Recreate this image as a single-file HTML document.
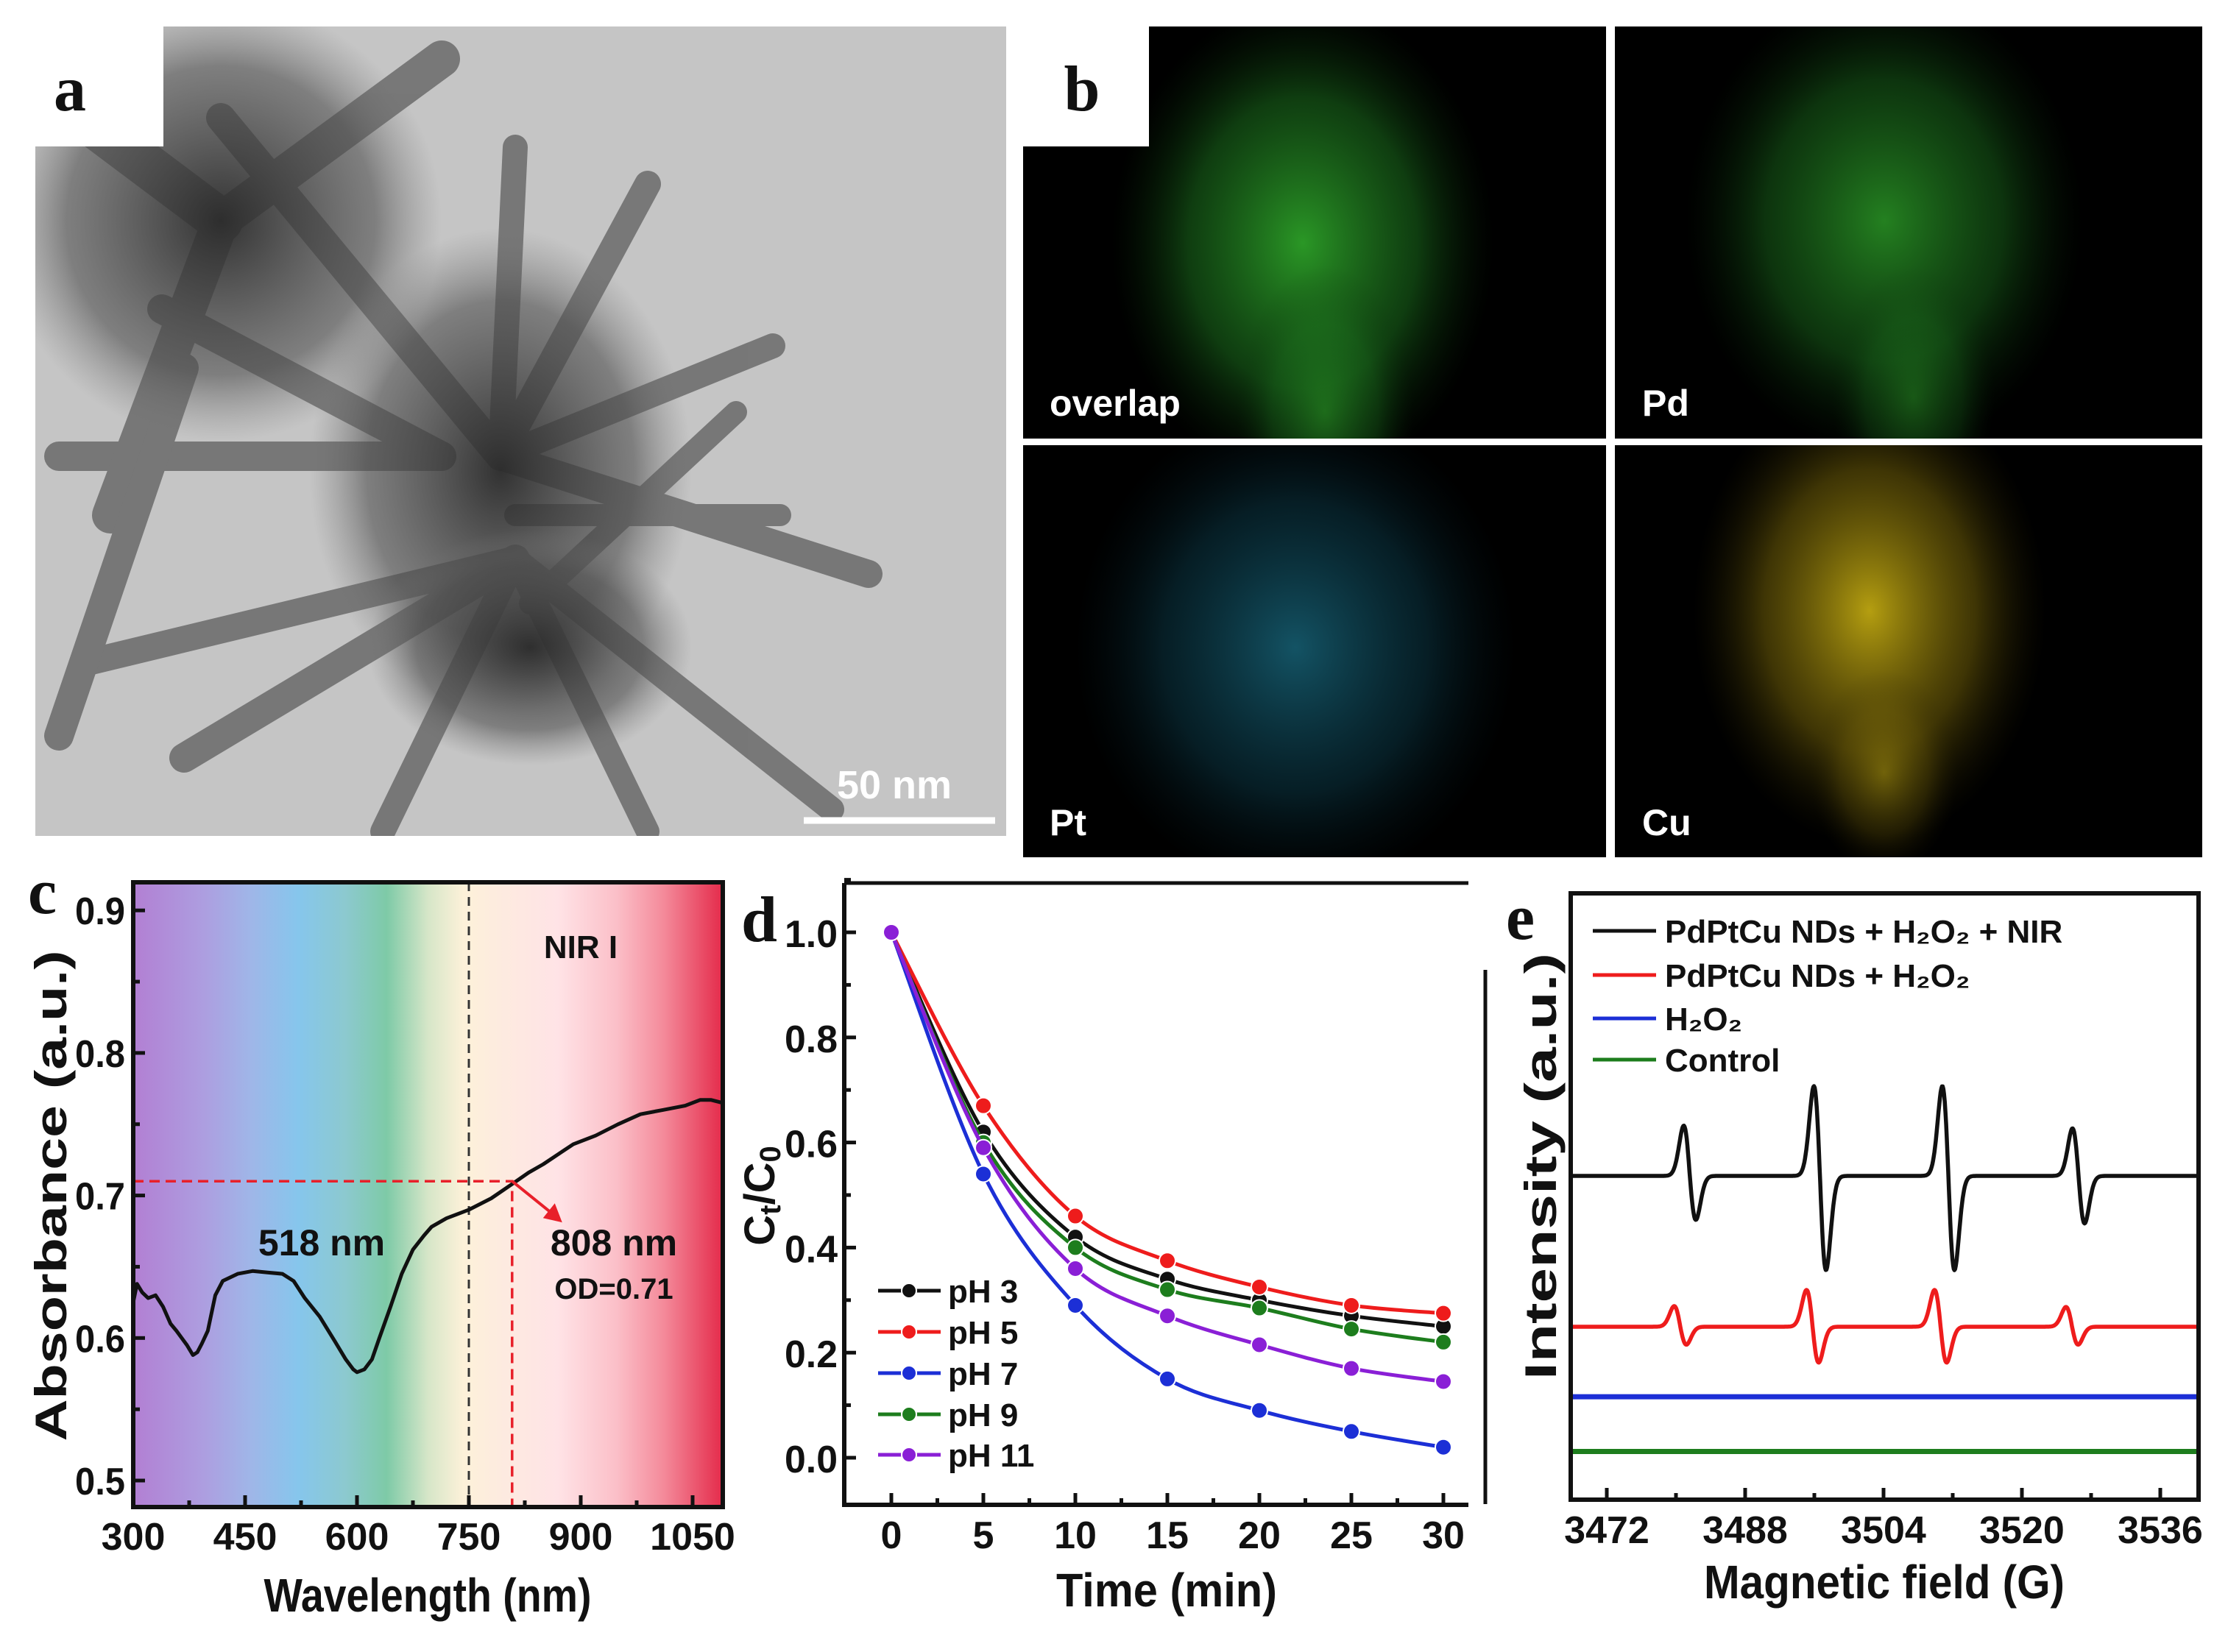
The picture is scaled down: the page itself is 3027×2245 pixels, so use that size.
<!DOCTYPE html>
<html><head><meta charset="utf-8">
<style>
html,body{margin:0;padding:0;background:#fff;}
svg{display:block;}
text{font-family:"Liberation Sans",Arial,sans-serif;}
.tk{font-size:52px;font-weight:bold;fill:#111;}
.ttl{font-size:64px;font-weight:bold;fill:#111;}
.pl{font-family:"Liberation Serif",serif;font-size:88px;font-weight:bold;fill:#111;}
.lg{font-size:44px;font-weight:bold;fill:#111;}
.map{font-size:50px;font-weight:bold;fill:#fff;}
</style></head>
<body>
<svg id="fig" width="3027" height="2245" viewBox="0 0 3027 2245" xmlns="http://www.w3.org/2000/svg">
<defs>
  <linearGradient id="spec" x1="181" x2="982" y1="0" y2="0" gradientUnits="userSpaceOnUse">
    <stop offset="0" stop-color="#b27fd3"/>
    <stop offset="0.12" stop-color="#ad9ee0"/>
    <stop offset="0.2" stop-color="#9fb6e8"/>
    <stop offset="0.28" stop-color="#86c6ec"/>
    <stop offset="0.36" stop-color="#8cc9cf"/>
    <stop offset="0.43" stop-color="#7ecaa7"/>
    <stop offset="0.5" stop-color="#d6e6c8"/>
    <stop offset="0.56" stop-color="#fdf1d9"/>
    <stop offset="0.62" stop-color="#fdebdf"/>
    <stop offset="0.72" stop-color="#ffe3e6"/>
    <stop offset="0.82" stop-color="#fbbfc8"/>
    <stop offset="0.9" stop-color="#f48a9a"/>
    <stop offset="1" stop-color="#e42b4b"/>
  </linearGradient>
  <radialGradient id="gOv" cx="0.5" cy="0.5" r="0.5"><stop offset="0" stop-color="#2fa82a" stop-opacity="0.9"/><stop offset="0.6" stop-color="#1e7a20" stop-opacity="0.5"/><stop offset="1" stop-color="#0a300a" stop-opacity="0"/></radialGradient>
  <radialGradient id="gPt" cx="0.5" cy="0.5" r="0.5"><stop offset="0" stop-color="#1a6f86" stop-opacity="0.75"/><stop offset="0.6" stop-color="#0f4a5c" stop-opacity="0.4"/><stop offset="1" stop-color="#062028" stop-opacity="0"/></radialGradient>
  <radialGradient id="gCu" cx="0.5" cy="0.5" r="0.5"><stop offset="0" stop-color="#c9b012" stop-opacity="0.9"/><stop offset="0.6" stop-color="#7d6a0a" stop-opacity="0.5"/><stop offset="1" stop-color="#2a2404" stop-opacity="0"/></radialGradient>
  <radialGradient id="gTem" cx="0.5" cy="0.5" r="0.5"><stop offset="0" stop-color="#2a2a2a" stop-opacity="0.95"/><stop offset="0.7" stop-color="#505050" stop-opacity="0.6"/><stop offset="1" stop-color="#777" stop-opacity="0"/></radialGradient>
  <clipPath id="clipA"><rect x="48" y="36" width="1319" height="1100"/></clipPath>
  <clipPath id="clipB1"><rect x="1390" y="36" width="792" height="560"/></clipPath>
  <clipPath id="clipB2"><rect x="2194" y="36" width="798" height="560"/></clipPath>
  <clipPath id="clipB3"><rect x="1390" y="605" width="792" height="560"/></clipPath>
  <clipPath id="clipB4"><rect x="2194" y="605" width="798" height="560"/></clipPath>
  <clipPath id="clipC"><rect x="181" y="1199" width="801" height="849"/></clipPath>
</defs>

<!-- Panel a: TEM -->
<g clip-path="url(#clipA)">
  <rect x="48" y="36" width="1319" height="1100" fill="#c5c5c5"/>
  <g id="temArms" stroke="#6a6a6a" stroke-linecap="round" fill="none" opacity="0.85"></g>
  <ellipse cx="300" cy="300" rx="300" ry="300" fill="url(#gTem)"/>
  <ellipse cx="680" cy="640" rx="260" ry="330" fill="url(#gTem)"/>
  <ellipse cx="720" cy="880" rx="220" ry="160" fill="url(#gTem)"/>
</g>
<rect x="0" y="0" width="222" height="199" fill="#fff"/>
<text x="95" y="150" class="pl" text-anchor="middle">a</text>
<line x1="1092" y1="1115" x2="1352" y2="1115" stroke="#fff" stroke-width="9"/>
<text x="1215" y="1085" text-anchor="middle" style="font-size:54px;font-weight:bold;fill:#fff">50 nm</text>

<!-- Panel b: EDS maps -->
<g>
  <rect x="1390" y="36" width="1602" height="1129" fill="#000"/>
  <g clip-path="url(#clipB1)">
    <ellipse cx="1770" cy="330" rx="260" ry="330" fill="url(#gOv)"/>
    <ellipse cx="1800" cy="560" rx="120" ry="200" fill="url(#gOv)" opacity="0.6"/>
  </g>
  <g clip-path="url(#clipB2)">
    <ellipse cx="2560" cy="300" rx="270" ry="320" fill="url(#gOv)" opacity="0.85"/>
    <ellipse cx="2600" cy="540" rx="110" ry="180" fill="url(#gOv)" opacity="0.5"/>
  </g>
  <g clip-path="url(#clipB3)">
    <ellipse cx="1760" cy="880" rx="300" ry="330" fill="url(#gPt)"/>
  </g>
  <g clip-path="url(#clipB4)">
    <ellipse cx="2540" cy="830" rx="240" ry="320" fill="url(#gCu)"/>
    <ellipse cx="2560" cy="1050" rx="100" ry="140" fill="url(#gCu)" opacity="0.5"/>
  </g>
  <rect x="2182" y="36" width="12" height="1129" fill="#fff"/>
  <rect x="1390" y="596" width="1602" height="9" fill="#fff"/>
  <text x="1426" y="565" class="map">overlap</text>
  <text x="2231" y="565" class="map">Pd</text>
  <text x="1426" y="1135" class="map">Pt</text>
  <text x="2231" y="1135" class="map">Cu</text>
</g>
<rect x="1390" y="0" width="171" height="199" fill="#fff"/>
<text x="1470" y="150" class="pl" text-anchor="middle">b</text>

<!-- Panel c -->
<g id="panelC">
  <rect x="181" y="1199" width="801" height="849" fill="url(#spec)"/>
</g>
<text x="38" y="1241" class="pl">c</text>

<!-- Panel d -->
<g id="panelD"></g>
<text x="1007" y="1279" class="pl">d</text>
<line x1="2018" y1="1318" x2="2018" y2="2044" stroke="#111" stroke-width="5"/>

<!-- Panel e -->
<g id="panelE"></g>
<text x="2046" y="1276" class="pl">e</text>
</svg>

<script>
// ---------- Panel c data ----------
const cWavelength = [300,305,312,320,330,340,350,358,365,372,380,386,392,400,410,420,440,460,480,500,515,530,550,570,585,595,600,610,620,630,645,660,675,690,700,720,750,780,808,830,850,870,890,920,950,980,1010,1040,1060,1075,1090];
const cAbsorbance = [0.625,0.638,0.632,0.628,0.630,0.622,0.610,0.605,0.600,0.595,0.588,0.590,0.596,0.605,0.630,0.640,0.645,0.647,0.646,0.645,0.640,0.628,0.615,0.598,0.585,0.578,0.576,0.578,0.585,0.600,0.622,0.645,0.662,0.672,0.678,0.684,0.690,0.698,0.708,0.716,0.722,0.729,0.736,0.742,0.750,0.757,0.760,0.763,0.767,0.767,0.765];
const cXTicks = [300,450,600,750,900,1050];
const cYTicks = [0.5,0.6,0.7,0.8,0.9];
const cMarkWl = 808, cMarkOD = 0.71, cBoundary = 750;

// ---------- Panel d data ----------
const dTime = [0,5,10,15,20,25,30];
const dPH3 = [1.0,0.62,0.42,0.34,0.30,0.27,0.25];
const dPH5 = [1.0,0.67,0.46,0.375,0.325,0.29,0.275];
const dPH7 = [1.0,0.54,0.29,0.15,0.09,0.05,0.02];
const dPH9 = [1.0,0.60,0.40,0.32,0.285,0.245,0.22];
const dPH11 = [1.0,0.59,0.36,0.27,0.215,0.17,0.145];
const dLabels = ["pH 3","pH 5","pH 7","pH 9","pH 11"];
const dXTicks = [0,5,10,15,20,25,30];
const dYTicks = [0.0,0.2,0.4,0.6,0.8,1.0];

// ---------- Panel e data ----------
const eLabels = ["PdPtCu NDs + H\u2082O\u2082 + NIR","PdPtCu NDs + H\u2082O\u2082","H\u2082O\u2082","Control"];
const eBaselines = [0.0,-1.68,-2.46,-3.07];
const eBlackPeakCenters = [3481.6,3496.65,3511.5,3526.55];
const eBlackUp = [0.56,1.0,1.0,0.53];
const eBlackDown = [0.49,1.05,1.05,0.53];
const eRedPeakCenters = [3480.5,3495.8,3510.6,3525.8];
const eRedUp = [0.23,0.41,0.41,0.22];
const eRedDown = [0.2,0.4,0.4,0.2];
const eXTicks = [3472,3488,3504,3520,3536];

const NS = "http://www.w3.org/2000/svg";
function mk(parent, tag, attrs){const e=document.createElementNS(NS,tag);for(const k in attrs)e.setAttribute(k,attrs[k]);parent.appendChild(e);return e;}
function smoothPath(pts){
  let d="M"+pts[0][0].toFixed(1)+","+pts[0][1].toFixed(1);
  for(let i=0;i<pts.length-1;i++){
    const p0=pts[i-1]||pts[i],p1=pts[i],p2=pts[i+1],p3=pts[i+2]||p2;
    const c1=[p1[0]+(p2[0]-p0[0])/6,p1[1]+(p2[1]-p0[1])/6];
    const c2=[p2[0]-(p3[0]-p1[0])/6,p2[1]-(p3[1]-p1[1])/6];
    d+=" C"+c1.map(v=>v.toFixed(1))+" "+c2.map(v=>v.toFixed(1))+" "+p2[0].toFixed(1)+","+p2[1].toFixed(1);
  }
  return d;
}

// TEM arms (decorative)
(function(){
  const g=document.getElementById('temArms');
  const arms=[[680,620,300,160,40],[680,620,880,250,36],[680,620,1050,470,34],[680,620,1180,780,38],[700,760,1130,1100,34],[700,760,880,1130,32],[700,760,520,1130,34],[700,760,250,1030,40],[700,760,120,900,36],[600,620,80,620,40],[600,620,220,420,40],[680,620,700,200,34],[700,700,1060,700,30],[720,820,1000,560,30],[300,300,150,700,50],[300,300,600,80,50],[300,300,100,150,60],[250,500,80,1000,40]];
  arms.forEach(a=>{mk(g,'line',{x1:a[0],y1:a[1],x2:a[2],y2:a[3],'stroke-width':a[4]});});
})();

// ---------- Panel c ----------
(function(){
  const g=document.getElementById('panelC');
  const L=181,R=982,T=1199,B=2048;
  const X=v=>181+(v-300)*(152/150);
  const Y=v=>2012-(v-0.5)*1937;
  mk(g,'line',{x1:X(cBoundary),y1:T,x2:X(cBoundary),y2:B,stroke:'#333','stroke-width':3,'stroke-dasharray':'12,8'});
  mk(g,'polyline',{points:L+","+Y(cMarkOD)+" "+X(cMarkWl)+","+Y(cMarkOD)+" "+X(cMarkWl)+","+B,fill:'none',stroke:'#e8202a','stroke-width':3.5,'stroke-dasharray':'14,8'});
  const pts=cWavelength.map((w,i)=>X(w).toFixed(1)+","+Y(cAbsorbance[i]).toFixed(1)).join(" ");
  const line=mk(g,'polyline',{points:pts,fill:'none',stroke:'#111','stroke-width':5,'stroke-linejoin':'round','clip-path':'url(#clipC)'});
  
  
  const ax=X(cMarkWl), ay=Y(cMarkOD);
  mk(g,'line',{x1:ax,y1:ay,x2:ax+52,y2:ay+42,stroke:'#e8202a','stroke-width':4});
  mk(g,'polygon',{points:(ax+68)+","+(ay+56)+" "+(ax+42)+","+(ay+50)+" "+(ax+58)+","+(ay+30),fill:'#e8202a'});
  mk(g,'rect',{x:L,y:T,width:R-L,height:B-T,fill:'none',stroke:'#111','stroke-width':6});
  cXTicks.forEach(v=>{mk(g,'line',{x1:X(v),y1:B,x2:X(v),y2:B-16,stroke:'#111','stroke-width':5});
    const t=mk(g,'text',{x:X(v),y:2106,'text-anchor':'middle',class:'tk'});t.textContent=v;
    
    if(v+75<1090) mk(g,'line',{x1:X(v+75),y1:B,x2:X(v+75),y2:B-9,stroke:'#111','stroke-width':5});});
  cYTicks.forEach(v=>{mk(g,'line',{x1:L,y1:Y(v),x2:L+16,y2:Y(v),stroke:'#111','stroke-width':5});
    if(v<0.9) mk(g,'line',{x1:L,y1:Y(v+0.05),x2:L+9,y2:Y(v+0.05),stroke:'#111','stroke-width':5});
    const t=mk(g,'text',{x:170,y:Y(v)+19,'text-anchor':'end',class:'tk',textLength:68,lengthAdjust:'spacingAndGlyphs'});t.textContent=v.toFixed(1);
    });
  const xt=mk(g,'text',{x:581,y:2190,'text-anchor':'middle',class:'ttl',textLength:445,lengthAdjust:'spacingAndGlyphs'});xt.textContent="Wavelength (nm)";
  
  const yt=mk(g,'text',{x:0,y:0,'text-anchor':'middle',class:'ttl',style:'font-size:60px',textLength:667,lengthAdjust:'spacingAndGlyphs',transform:'translate(90,1625) rotate(-90)'});yt.textContent="Absorbance (a.u.)";
  
  const a1=mk(g,'text',{x:437,y:1706,'text-anchor':'middle',style:'font-size:50px;font-weight:bold;fill:#111'});a1.textContent="518 nm";
  
  const a2=mk(g,'text',{x:789,y:1302,'text-anchor':'middle',style:'font-size:44px;font-weight:bold;fill:#111'});a2.textContent="NIR I";
  
  const a3=mk(g,'text',{x:834,y:1706,'text-anchor':'middle',style:'font-size:50px;font-weight:bold;fill:#111'});a3.textContent="808 nm";
  
  const a4=mk(g,'text',{x:834,y:1765,'text-anchor':'middle',style:'font-size:40px;font-weight:bold;fill:#111'});a4.textContent="OD=0.71";
  
})();

// ---------- Panel d ----------
(function(){
  const g=document.getElementById('panelD');
  const L=1147,R=1995,T=1200,B=2045;
  const X=v=>1211+v*25;
  const Y=v=>1981-v*714;
  mk(g,'line',{x1:L,y1:T,x2:R,y2:T,stroke:'#111','stroke-width':5});
  mk(g,'polyline',{points:L+","+T+" "+L+","+B+" "+R+","+B,fill:'none',stroke:'#111','stroke-width':6});
  dXTicks.forEach(v=>{mk(g,'line',{x1:X(v),y1:B,x2:X(v),y2:B-16,stroke:'#111','stroke-width':5});
    if(v<30) mk(g,'line',{x1:X(v+2.5),y1:B,x2:X(v+2.5),y2:B-9,stroke:'#111','stroke-width':5});
    const t=mk(g,'text',{x:X(v),y:2104,'text-anchor':'middle',class:'tk'});t.textContent=v;
    });
  dYTicks.forEach(v=>{mk(g,'line',{x1:L,y1:Y(v),x2:L+16,y2:Y(v),stroke:'#111','stroke-width':5});
    mk(g,'line',{x1:L,y1:Y(v+0.1),x2:L+9,y2:Y(v+0.1),stroke:'#111','stroke-width':5});
    const t=mk(g,'text',{x:1138,y:Y(v)+20,'text-anchor':'end',class:'tk',textLength:72,lengthAdjust:'spacingAndGlyphs'});t.textContent=v.toFixed(1);
    });
  const series=[dPH3,dPH5,dPH7,dPH9,dPH11];
  const colors=['#111','#ee1c1c','#1c2fd6','#1d7d1d','#8a1fd6'];
  series.forEach((s,si)=>{
    const pts=dTime.map((t,i)=>[X(t),Y(s[i])]);
    const p=mk(g,'path',{d:smoothPath(pts),fill:'none',stroke:colors[si],'stroke-width':5});
    
    
    pts.forEach(q=>{const c=mk(g,'circle',{cx:q[0],cy:q[1],r:11,fill:colors[si],stroke:'#fff','stroke-width':2});
      
      });
  });
  const legY=[1754,1810,1866,1922,1977];
  dLabels.forEach((lab,i)=>{
    const l=mk(g,'line',{x1:1193,y1:legY[i],x2:1278,y2:legY[i],stroke:colors[i],'stroke-width':5});
    
    mk(g,'circle',{cx:1235,cy:legY[i],r:10,fill:colors[i],stroke:'#fff','stroke-width':2});
    const t=mk(g,'text',{x:1288,y:legY[i]+16,class:'lg'});t.textContent=lab;
    
  });
  const xt=mk(g,'text',{x:1585,y:2183,'text-anchor':'middle',class:'ttl',textLength:300,lengthAdjust:'spacingAndGlyphs'});xt.textContent="Time (min)";
  
  const yt=mk(g,'text',{x:0,y:0,'text-anchor':'middle',class:'ttl',style:'font-size:58px',transform:'translate(1052,1625) rotate(-90)'});
  yt.innerHTML='C<tspan dy="8" style="font-size:40px">t</tspan><tspan dy="-8">/C</tspan><tspan dy="8" style="font-size:40px">0</tspan>';
  
})();

// ---------- Panel e ----------
(function(){
  const g=document.getElementById('panelE');
  const L=2134,R=2987,T=1214,B=2038;
  const X=v=>2183+(v-3472)*(188/16);
  const unit=122;
  const Y0=1598;
  const Y=v=>Y0-v*unit;
  function spec(centers,ups,downs,w){
    const out=[];
    for(let x=3467.8;x<=3540.4;x+=0.08){
      let v=0;
      centers.forEach((c,i)=>{const u=(x-c)/w;const f=-u*Math.exp(0.5-u*u/2);v+=f*(f>0?ups[i]:downs[i]);});
      out.push([x,v]);
    }
    return out;
  }
  const colors=['#111','#ee1c1c','#1c2fd6','#1d7d1d'];
  const specs=[spec(eBlackPeakCenters,eBlackUp,eBlackDown,0.7),spec(eRedPeakCenters,eRedUp,eRedDown,0.7),[[3467.8,0],[3540.4,0]],[[3467.8,0],[3540.4,0]]];
  specs.forEach((s,i)=>{
    const pts=s.map(p=>X(p[0]).toFixed(1)+","+Y(p[1]+eBaselines[i]).toFixed(1)).join(" ");
    const pl=mk(g,'polyline',{points:pts,fill:'none',stroke:colors[i],'stroke-width':i>1?7:5.5,'stroke-linejoin':'round'});
    
    
  });
  mk(g,'rect',{x:L,y:T,width:R-L,height:B-T,fill:'none',stroke:'#111','stroke-width':6});
  eXTicks.forEach(v=>{mk(g,'line',{x1:X(v),y1:B,x2:X(v),y2:B-16,stroke:'#111','stroke-width':5});
    if(v<3536) mk(g,'line',{x1:X(v+8),y1:B,x2:X(v+8),y2:B-9,stroke:'#111','stroke-width':5});
    const t=mk(g,'text',{x:X(v),y:2097,'text-anchor':'middle',class:'tk'});t.textContent=v;
    });
  const legY=[1265,1325,1384,1440];
  eLabels.forEach((lab,i)=>{
    const l=mk(g,'line',{x1:2164,y1:legY[i],x2:2250,y2:legY[i],stroke:colors[i],'stroke-width':5});
    
    const t=mk(g,'text',{x:2262,y:legY[i]+16,class:'lg'});t.textContent=lab;
    
  });
  const xt=mk(g,'text',{x:2560,y:2172,'text-anchor':'middle',class:'ttl',textLength:490,lengthAdjust:'spacingAndGlyphs'});xt.textContent="Magnetic field (G)";
  
  const yt=mk(g,'text',{x:0,y:0,'text-anchor':'middle',class:'ttl',style:'font-size:60px',textLength:580,lengthAdjust:'spacingAndGlyphs',transform:'translate(2114,1585) rotate(-90)'});yt.textContent="Intensity (a.u.)";
  
})();
</script>
</body></html>
